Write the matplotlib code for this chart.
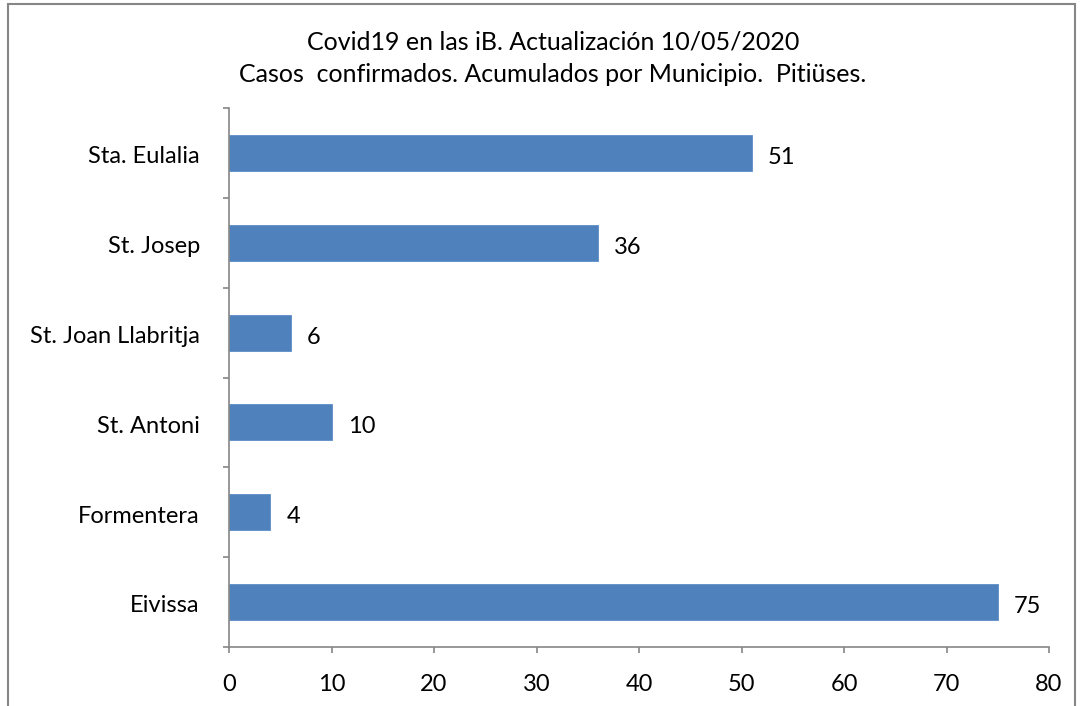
import matplotlib
matplotlib.use("Agg")
import matplotlib.pyplot as plt
from matplotlib.patches import Rectangle
import numpy as np

plt.rcParams['font.family'] = ['Lato', 'DejaVu Sans']

categories = ["Eivissa", "Formentera", "St. Antoni", "St. Joan Llabritja", "St. Josep", "Sta. Eulalia"]
values = [75, 4, 10, 6, 36, 51]
x_ticks = [0, 10, 20, 30, 40, 50, 60, 70, 80]
title_lines = ["Covid19 en las iB. Actualización 10/05/2020",
               "Casos  confirmados. Acumulados por Municipio.  Pitiüses."]

W, H = 1083, 706
fig = plt.figure(figsize=(W / 100, H / 100), dpi=100)
ax = fig.add_axes([229 / W, 1 - 647 / H, (1049 - 229) / W, (647 - 108) / H])

grey = "#868686"
bar_color = "#4F81BD"
fs = 17
y = np.arange(len(categories))
ax.barh(y, values, height=0.4, color=bar_color, edgecolor="#5B8CC6", linewidth=0.6)
for yi, v in zip(y, values):
    ax.text(v + 1.6, yi - 0.05, str(v), va="center", ha="left", fontsize=fs, color="black")

ax.set_xlim(0, 80)
ax.set_ylim(-0.5, len(categories) - 0.5)
ax.set_xticks(x_ticks)
ax.set_xticklabels([str(t) for t in x_ticks])
ax.set_yticks(y - 0.02)
ax.set_yticklabels(categories)
ax.set_yticks(np.arange(-0.5, len(categories)), minor=True)

ax.tick_params(axis="y", which="major", length=0, pad=21, labelsize=fs)
ax.tick_params(axis="y", which="minor", length=4.5, width=1.2, color=grey, direction="out")
ax.tick_params(axis="x", which="major", length=4.5, width=1.2, color=grey, pad=15, labelsize=fs)

for s in ["top", "right"]:
    ax.spines[s].set_visible(False)
for s in ["left", "bottom"]:
    ax.spines[s].set_color(grey)
    ax.spines[s].set_linewidth(1.2)

fig.text(553 / W, 1 - 42 / H, title_lines[0], ha="center", va="center", fontsize=18)
fig.text(553 / W, 1 - 75 / H, title_lines[1], ha="center", va="center", fontsize=18)

fig.patches.append(Rectangle((8 / W, -0.05), (1075 - 8) / W, 1 - 4 / H + 0.05,
                             transform=fig.transFigure, fill=False,
                             edgecolor=grey, linewidth=1.5, clip_on=False))

fig.savefig("out.png", dpi=100)
